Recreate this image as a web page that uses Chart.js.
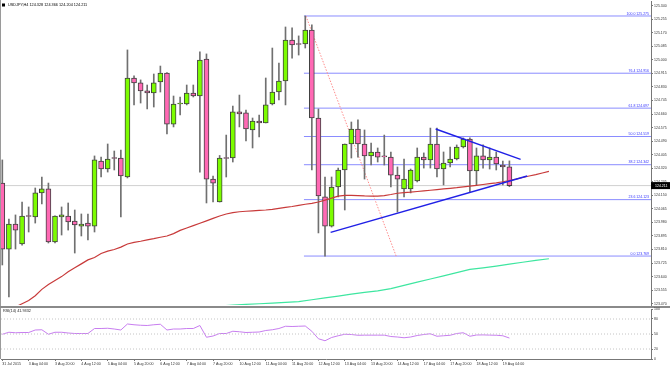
<!DOCTYPE html>
<html><head><meta charset="utf-8">
<script src="https://cdn.jsdelivr.net/npm/chart.js@4/dist/chart.umd.min.js"></script>
<style>
html,body{margin:0;padding:0;background:#fff;}
#wrap{position:relative;width:670px;height:370px;overflow:hidden;background:#fff;}
#c1{position:absolute;left:0;top:0;width:670px;height:306px;}
#c2{position:absolute;left:0;top:306px;width:670px;height:64px;}
</style></head><body>
<div id="wrap"><canvas id="c1" width="670" height="306"></canvas><canvas id="c2" width="670" height="64"></canvas></div>
<script>
// ---------- DATA ----------
const symbol = "USDJPY,H4";
const categories = [
"31 Jul 12:00","31 Jul 16:00","31 Jul 20:00",
"3 Aug 00:00","3 Aug 04:00","3 Aug 08:00","3 Aug 12:00","3 Aug 16:00","3 Aug 20:00",
"4 Aug 00:00","4 Aug 04:00","4 Aug 08:00","4 Aug 12:00","4 Aug 16:00","4 Aug 20:00",
"5 Aug 00:00","5 Aug 04:00","5 Aug 08:00","5 Aug 12:00","5 Aug 16:00","5 Aug 20:00",
"6 Aug 00:00","6 Aug 04:00","6 Aug 08:00","6 Aug 12:00","6 Aug 16:00","6 Aug 20:00",
"7 Aug 00:00","7 Aug 04:00","7 Aug 08:00","7 Aug 12:00","7 Aug 16:00","7 Aug 20:00",
"10 Aug 00:00","10 Aug 04:00","10 Aug 08:00","10 Aug 12:00","10 Aug 16:00","10 Aug 20:00",
"11 Aug 00:00","11 Aug 04:00","11 Aug 08:00","11 Aug 12:00","11 Aug 16:00","11 Aug 20:00",
"12 Aug 00:00","12 Aug 04:00","12 Aug 08:00","12 Aug 12:00","12 Aug 16:00","12 Aug 20:00",
"13 Aug 00:00","13 Aug 04:00","13 Aug 08:00","13 Aug 12:00","13 Aug 16:00","13 Aug 20:00",
"14 Aug 00:00","14 Aug 04:00","14 Aug 08:00","14 Aug 12:00","14 Aug 16:00","14 Aug 20:00",
"17 Aug 00:00","17 Aug 04:00","17 Aug 08:00","17 Aug 12:00","17 Aug 16:00","17 Aug 20:00",
"18 Aug 00:00","18 Aug 04:00","18 Aug 08:00","18 Aug 12:00","18 Aug 16:00","18 Aug 20:00",
"19 Aug 00:00","19 Aug 04:00","19 Aug 08:00"];
const firstTickLabel = "31 Jul 2015";

const open  = [124.227,123.813,123.970,123.845,124.020,124.014,124.165,124.190,123.857,124.014,
               124.020,123.989,123.957,123.976,123.957,124.365,124.315,124.384,124.384,124.265,
               124.886,124.855,124.805,124.792,124.861,124.917,124.597,124.723,124.723,124.792,
               124.773,125.005,124.252,124.108,124.384,124.384,124.673,124.667,124.560,124.616,
               124.604,124.723,124.798,124.867,125.124,125.099,125.099,125.187,124.635,124.140,
               123.957,124.202,124.309,124.472,124.566,124.472,124.397,124.422,124.394,124.390,
               124.277,124.190,124.190,124.240,124.390,124.372,124.472,124.315,124.353,124.378,
               124.453,124.503,124.303,124.397,124.372,124.390,124.340,124.328];
const high  = [124.372,124.001,124.027,124.108,124.077,124.196,124.265,124.227,124.022,124.077,
               124.102,124.058,124.033,124.033,124.397,124.390,124.472,124.428,124.434,125.062,
               124.899,124.874,124.842,124.911,124.961,124.920,124.773,124.767,124.842,124.842,
               125.050,125.037,124.271,124.400,124.528,124.710,124.779,124.685,124.635,124.654,
               124.886,125.074,124.980,125.206,125.200,125.150,125.275,125.219,124.692,124.265,
               124.265,124.321,124.472,124.610,124.623,124.560,124.478,124.447,124.528,124.422,
               124.328,124.378,124.315,124.447,124.416,124.572,124.572,124.422,124.453,124.466,
               124.510,124.510,124.447,124.466,124.447,124.422,124.365,124.366];
const low   = [123.713,123.512,123.813,123.838,123.920,123.976,124.096,123.851,123.851,123.901,
               123.932,123.788,123.895,123.870,123.920,124.265,124.296,124.309,124.014,124.259,
               124.717,124.729,124.692,124.704,124.798,124.535,124.579,124.654,124.717,124.767,
               124.296,124.102,124.108,124.108,124.265,124.359,124.579,124.491,124.447,124.516,
               124.604,124.717,124.748,124.717,125.011,125.030,125.074,124.309,123.914,123.769,
               123.951,124.140,124.058,124.384,124.390,124.252,124.340,124.359,124.340,124.202,
               124.045,124.140,124.165,124.234,124.321,124.321,124.265,124.215,124.328,124.372,
               124.447,124.171,124.215,124.321,124.315,124.309,124.215,124.204];
const close = [123.813,123.970,123.932,124.020,124.017,124.165,124.190,123.857,124.020,124.027,
               123.983,123.964,123.970,123.957,124.372,124.315,124.378,124.381,124.271,124.886,
               124.855,124.805,124.792,124.855,124.917,124.597,124.723,124.726,124.792,124.773,
               124.999,124.252,124.227,124.384,124.381,124.673,124.660,124.566,124.616,124.604,
               124.717,124.798,124.867,125.124,125.093,125.096,125.187,124.635,124.146,123.957,
               124.202,124.309,124.472,124.566,124.472,124.397,124.422,124.390,124.391,124.277,
               124.252,124.252,124.309,124.390,124.372,124.472,124.315,124.353,124.378,124.453,
               124.503,124.303,124.397,124.372,124.390,124.347,124.328,124.211];

// red moving average (shifted forward), one value per bar position 0..83
const redMA = [123.400,123.420,123.450,123.470,123.490,123.520,123.560,123.590,123.615,123.640,
               123.670,123.695,123.720,123.745,123.760,123.785,123.800,123.810,123.825,123.845,
               123.855,123.862,123.870,123.878,123.887,123.895,123.910,123.930,123.945,123.960,
               123.975,123.990,124.005,124.020,124.033,124.042,124.047,124.050,124.053,124.056,
               124.058,124.062,124.068,124.074,124.080,124.087,124.094,124.100,124.108,124.120,
               124.132,124.145,124.150,124.150,124.148,124.146,124.145,124.145,124.148,124.155,
               124.163,124.167,124.170,124.174,124.178,124.182,124.186,124.190,124.194,124.198,
               124.203,124.208,124.213,124.218,124.223,124.228,124.235,124.243,124.252,124.262,
               124.271,124.280,124.290,124.300];
// green moving average (shifted forward)
const greenMAX = [33,35,37,39,41,43,45,47,49,51,53,55,57,59,61,63,65,67,69,71,73,75,77,79,81,83];
const greenMA  = [123.455,123.462,123.466,123.470,123.474,123.478,123.483,123.495,123.507,123.518,
                  123.530,123.541,123.551,123.565,123.585,123.605,123.625,123.645,123.665,123.685,
                  123.695,123.706,123.718,123.730,123.742,123.752];

const fibRatios = ["100.0","76.4","61.8","50.0","38.2","23.6","0.0"];
const fibLevels = [125.275,124.916,124.697,124.519,124.342,124.123,123.769];
const fibStartBar = 45.8;
const fibDiagX = [46.1, 59.8];
const fibDiagY = [125.275, 123.769];
const trendLowerX = [49.85, 79.7];
const trendLowerY = [123.918, 124.271];
const trendUpperX = [65.8, 78.7];
const trendUpperY = [124.566, 124.376];
const lastPrice = 124.211;

const rsi = [49.5,53.5,52.5,53,53,58,58.5,49.5,53.5,53.5,
             52,51,51,51,61,61,61.5,60,58,70,
             68.5,67.5,67,68.5,69.5,58,60,60,61,61,
             67,43.5,46,51,51,55.5,54.5,53,53.5,54,
             57,58.5,61,65.5,65,65.5,66,55.5,40.5,36.5,
             43,46.5,49.5,49,47.5,47.7,47.7,47.7,47.7,45,
             44,42.5,44,47,49,50.5,45.5,46.5,47.5,51,
             52.5,45.5,48,48.2,47.8,47.5,46.5,41.93];
const rsiLabel = "RSI(14) 41.9332";
const rsiLevels = [80,50,20];

const priceTicks = [125.340,125.255,125.170,125.085,125.000,124.915,124.830,124.745,124.660,124.575,
                    124.490,124.405,124.320,124.235,124.150,124.065,123.980,123.895,123.810,123.725,
                    123.640,123.555,123.470];
const rsiTicks = [0,20,50,80,100];

// ---------- VIEW ----------
const X_MIN = -0.2, X_MAX = 98.5;
const Y_MIN = 123.462, Y_MAX = 125.369;
const FONT = "'Liberation Sans', Arial, sans-serif";
const AXIS_W = 19;
const UP = '#7CFC00', DOWN = '#FF69B4', EDGE = '#404040', WICK = '#707070';

const bars = categories.map((c,i)=>i);
const wickData = bars.map(i=>({x:i, y:[low[i], high[i]]}));
const bodyData = bars.map(i=>({x:i, y:[open[i], close[i]]}));
const hline = (v)=>[{x:X_MIN,y:v},{x:X_MAX,y:v}];
const pts = (xs,ys)=>xs.map((x,k)=>({x, y:ys[k]}));

const ds1 = [];
fibLevels.forEach(lv=>ds1.push({type:'line', data:[{x:fibStartBar,y:lv},{x:X_MAX,y:lv}], borderColor:'#8a8cff', borderWidth:1, pointRadius:0, order:9}));
ds1.push({type:'line', data:hline(lastPrice), borderColor:'#d0d0d0', borderWidth:1, pointRadius:0, order:9});
ds1.push({type:'line', data:pts(fibDiagX,fibDiagY), borderColor:'#ff8c8c', borderWidth:1, borderDash:[1.5,1.5], pointRadius:0, order:8});
ds1.push({type:'bar', data:wickData, barThickness:1, backgroundColor:WICK, borderWidth:0, grouped:false, order:3});
ds1.push({type:'bar', data:bodyData, barThickness:5, grouped:false, order:2, minBarLength:1, borderSkipped:false, borderWidth:1,
  borderColor:EDGE,
  backgroundColor:(ctx)=>{const i=ctx.dataIndex; return close[i]>=open[i]?UP:DOWN;}});
ds1.push({type:'line', data:redMA.map((v,i)=>({x:i,y:v})), borderColor:'#c83a3a', borderWidth:1.2, pointRadius:0, order:1});
ds1.push({type:'line', data:pts(greenMAX,greenMA), borderColor:'#3ee6a0', borderWidth:1.2, pointRadius:0, order:1});
ds1.push({type:'line', data:pts(trendLowerX,trendLowerY), borderColor:'#2020e6', borderWidth:1.4, pointRadius:0, order:0});
ds1.push({type:'line', data:pts(trendUpperX,trendUpperY), borderColor:'#2020e6', borderWidth:1.4, pointRadius:0, order:0});

const headerText = symbol + " " + [open[77],high[77],low[77],close[77]].map(v=>v.toFixed(3)).join(" ");

const overlay1 = {
  id:'overlay1',
  beforeDraw(chart){ const c=chart.ctx; c.save(); c.fillStyle='#fff'; c.fillRect(0,0,chart.width,chart.height); c.restore(); },
  afterDraw(chart){
    const c=chart.ctx, ys=chart.scales.y, a=chart.chartArea;
    c.save();
    c.strokeStyle='#9a9a9a'; c.lineWidth=1; c.beginPath(); c.moveTo(0.5,0); c.lineTo(0.5,chart.height); c.stroke();
    c.fillStyle='#000'; c.fillRect(2,3.5,3,3);
    c.font='3.8px '+FONT; c.textBaseline='middle'; c.textAlign='left';
    c.fillText(headerText, 8, 5);
    c.fillStyle='#3434ff'; c.textAlign='right'; c.textBaseline='bottom'; c.font='3.5px '+FONT;
    fibLevels.forEach((lv,k)=>c.fillText(fibRatios[k]+' '+lv.toFixed(3), a.right-2, ys.getPixelForValue(lv)-0.5));
    const py = ys.getPixelForValue(lastPrice);
    c.fillStyle='#000'; c.fillRect(a.right, py-3.5, chart.width-a.right, 7);
    c.fillStyle='#fff'; c.textAlign='left'; c.textBaseline='middle';
    c.fillText(lastPrice.toFixed(3), a.right+4, py);
    c.restore();
  }
};

new Chart(document.getElementById('c1'), {
  type:'bar',
  data:{datasets:ds1},
  options:{
    responsive:false, animation:false, events:[],
    layout:{padding:{left:1,top:1,right:0,bottom:1}},
    plugins:{legend:{display:false}, tooltip:{enabled:false}},
    scales:{
      x:{type:'linear', min:X_MIN, max:X_MAX, display:false, offset:false},
      y:{type:'linear', position:'right', min:Y_MIN, max:Y_MAX,
         afterBuildTicks(ax){ ax.ticks = priceTicks.map(v=>({value:v})); },
         afterFit(ax){ ax.width=AXIS_W; ax.paddingTop=0; ax.paddingBottom=0; },
         ticks:{autoSkip:false, font:{size:3.5,family:FONT}, color:'#333', padding:1, callback:v=>Number(v).toFixed(3)},
         grid:{drawOnChartArea:false, tickLength:2, color:'#777'},
         border:{color:'#777'}}
    }
  },
  plugins:[overlay1]
});

// ---------- RSI ----------
const ds2 = [];
rsiLevels.forEach(lv=>ds2.push({type:'line', data:hline(lv), borderColor:'#c4c4c4', borderWidth:1, borderDash:[1,2], pointRadius:0}));
ds2.push({type:'line', data:rsi.map((v,i)=>({x:i,y:v})), borderColor:'#c87ef0', borderWidth:1, pointRadius:0});

const overlay2 = {
  id:'overlay2',
  beforeDraw(chart){ const c=chart.ctx; c.save(); c.fillStyle='#fff'; c.fillRect(0,0,chart.width,chart.height);
    c.fillStyle='#8a8a8a'; c.fillRect(0,0,chart.width,2); c.restore(); },
  afterDraw(chart){
    const c=chart.ctx, a=chart.chartArea;
    c.save();
    c.strokeStyle='#9a9a9a'; c.lineWidth=1; c.beginPath(); c.moveTo(0.5,2); c.lineTo(0.5,a.bottom); c.stroke();
    c.fillStyle='#222'; c.font='3.8px '+FONT; c.textBaseline='middle'; c.textAlign='left';
    c.fillText(rsiLabel, 3, a.top+2);
    c.restore();
  }
};

new Chart(document.getElementById('c2'), {
  type:'line',
  data:{datasets:ds2},
  options:{
    responsive:false, animation:false, events:[],
    layout:{padding:{left:1,top:3,right:0,bottom:0}},
    plugins:{legend:{display:false}, tooltip:{enabled:false}},
    scales:{
      x:{type:'linear', min:X_MIN, max:X_MAX, position:'bottom',
         afterBuildTicks(ax){ ax.ticks = bars.filter(i=>i%4===0).map(i=>({value:i})); },
         afterFit(ax){ ax.height=11; ax.paddingLeft=0; ax.paddingRight=0; },
         ticks:{autoSkip:false, maxRotation:0, minRotation:0, align:'start', padding:1,
                font:{size:3.6,family:FONT}, color:'#333',
                callback:v=> v===0 ? firstTickLabel : categories[v]},
         grid:{drawOnChartArea:false, tickLength:2, color:'#777'},
         border:{color:'#777'}},
      y:{type:'linear', position:'right', min:0, max:100,
         afterBuildTicks(ax){ ax.ticks = rsiTicks.map(v=>({value:v})); },
         afterFit(ax){ ax.width=AXIS_W; ax.paddingTop=0; ax.paddingBottom=0; },
         ticks:{autoSkip:false, font:{size:3.5,family:FONT}, color:'#333', padding:1},
         grid:{drawOnChartArea:false, tickLength:2, color:'#777'},
         border:{color:'#777'}}
    }
  },
  plugins:[overlay2]
});
</script>
</body></html>
